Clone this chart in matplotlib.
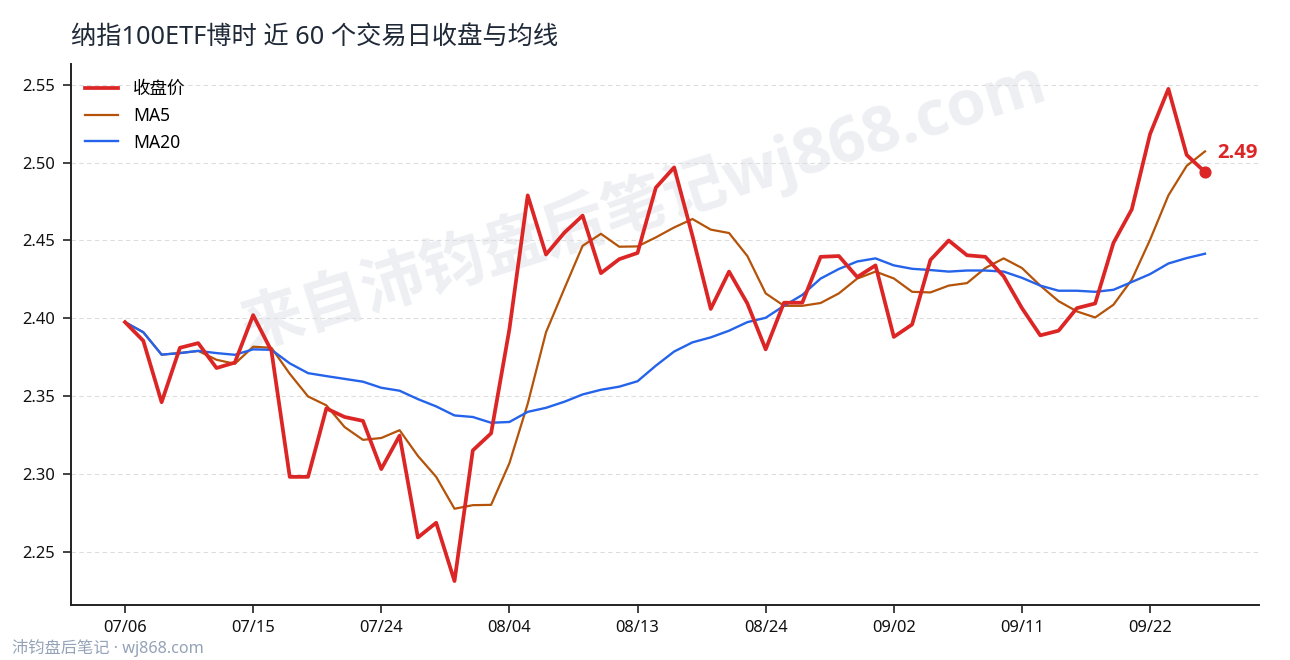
import matplotlib
matplotlib.use("Agg")
import matplotlib.pyplot as plt

FONT = ['Noto Sans', 'Noto Sans CJK SC', 'DejaVu Sans']
BOLD_FONT = ['Open Sans', 'Noto Sans CJK SC', 'DejaVu Sans']
plt.rcParams['font.family'] = FONT

title = "纳指100ETF博时 近 60 个交易日收盘与均线"
watermark = "来自沛钧盘后笔记wj868.com"
footer = "沛钧盘后笔记 · wj868.com"

dates = ["07/06","07/07","07/08","07/09","07/10","07/13","07/14","07/15","07/16","07/17",
         "07/20","07/21","07/22","07/23","07/24","07/27","07/28","07/29","07/30","07/31",
         "08/03","08/04","08/05","08/06","08/07","08/10","08/11","08/12","08/13","08/14",
         "08/17","08/18","08/19","08/20","08/21","08/24","08/25","08/26","08/27","08/28",
         "08/31","09/01","09/02","09/03","09/04","09/07","09/08","09/09","09/10","09/11",
         "09/14","09/15","09/16","09/17","09/18","09/21","09/22","09/23","09/24","09/25"]

close = [2.3975,2.3855,2.346,2.381,2.384,2.368,2.3715,2.402,2.379,2.298,
         2.298,2.342,2.3365,2.334,2.303,2.3245,2.259,2.2685,2.231,2.315,
         2.326,2.393,2.479,2.441,2.455,2.466,2.429,2.438,2.442,2.484,
         2.497,2.453,2.406,2.430,2.4095,2.380,2.410,2.410,2.4395,2.440,
         2.4265,2.434,2.388,2.396,2.4375,2.450,2.4405,2.4395,2.427,2.4065,
         2.389,2.392,2.4065,2.4095,2.4485,2.470,2.5185,2.5475,2.505,2.494]

ma5 = [2.3975,2.391,2.3766,2.3776,2.379,2.3733,2.3707,2.3817,2.381,2.3643,
       2.3497,2.344,2.330,2.3218,2.323,2.328,2.3115,2.298,2.2775,2.2798,
       2.280,2.3068,2.345,2.391,2.419,2.4466,2.4543,2.446,2.4462,2.452,
       2.4584,2.4638,2.457,2.4548,2.440,2.416,2.408,2.408,2.4098,2.416,
       2.4255,2.430,2.4256,2.417,2.4166,2.421,2.4226,2.4323,2.4385,2.4323,
       2.421,2.411,2.4044,2.4005,2.4087,2.4248,2.4505,2.479,2.498,2.5073]

ma20 = [2.3975,2.391,2.3766,2.3776,2.379,2.3776,2.3765,2.380,2.3797,2.371,
        2.3647,2.3628,2.361,2.3592,2.3553,2.3534,2.348,2.3433,2.3375,2.3365,
        2.3328,2.3333,2.3398,2.3424,2.3463,2.351,2.354,2.356,2.3595,2.3695,
        2.3786,2.3845,2.3877,2.392,2.3975,2.4003,2.408,2.415,2.4255,2.4317,
        2.4365,2.4385,2.434,2.4318,2.431,2.430,2.4307,2.4307,2.430,2.426,
        2.421,2.4177,2.4177,2.417,2.4183,2.4233,2.4284,2.4352,2.4387,2.4415]

y_ticks = [2.25, 2.30, 2.35, 2.40, 2.45, 2.50, 2.55]
tick_step = 7
last_label = "2.49"

W, H = 1290, 660
fig = plt.figure(figsize=(W/100, H/100), dpi=100, facecolor="white")
ax = fig.add_axes([71/W, 1-605/H, (1259-71)/W, (605-64)/H])
ax.patch.set_alpha(0)

xs = list(range(len(dates)))
ax.plot(xs, close, color="#dc2626", lw=2.7, label="收盘价", zorder=3)
ax.plot(xs, ma5, color="#b45309", lw=1.6, label="MA5", zorder=2)
ax.plot(xs, ma20, color="#2563eb", lw=1.7, label="MA20", zorder=2)
ax.scatter([xs[-1]], [close[-1]], s=60, color="#dc2626", zorder=4)
ax.annotate(last_label, (xs[-1], close[-1]), xytext=(9, 14), textcoords="offset points",
            color="#dc2626", fontsize=14.6, fontweight="bold", family=BOLD_FONT, va="center", ha="left",
            annotation_clip=False, zorder=5)

ax.set_xlim(-2.95, 61.95)
ax.set_ylim(2.2156, 2.5635)
ax.set_yticks(y_ticks)
ax.set_yticklabels([f"{v:.2f}" for v in y_ticks])
ax.set_xticks(xs[::tick_step])
ax.set_xticklabels(dates[::tick_step])
ax.tick_params(axis="both", labelsize=11.9, length=5.5, width=1.2, color="#222222", labelcolor="#111111")
ax.tick_params(axis="y", pad=6)
ax.tick_params(axis="x", pad=5)
ax.grid(axis="y", color="#dddddd", lw=0.8, ls=(0, (4, 3)), zorder=0)
ax.set_axisbelow(True)
for s in ("top", "right"):
    ax.spines[s].set_visible(False)
for s in ("left", "bottom"):
    ax.spines[s].set_linewidth(1.4)
    ax.spines[s].set_color("#222222")

leg = ax.legend(loc="upper left", bbox_to_anchor=(0.0, 1 - 2/541), frameon=False, fontsize=12.6,
                handlelength=1.9, handletextpad=0.85, labelspacing=0.5, borderpad=0.4, borderaxespad=0.4)

fig.text(71/W, 1-37/H, title, fontsize=18.2, color="#1f2937", va="center", ha="left")
fig.text(643/W, 1-205/H, watermark, fontsize=45.5, color="#dfe2ea", alpha=0.55, rotation=17.3,
         ha="center", va="center", fontweight="bold", family=BOLD_FONT, zorder=-1)
fig.text(12/W, 1-648/H, footer, fontsize=11.7, color="#94a3b8", va="center", ha="left")

fig.savefig("out.png", dpi=100, facecolor="white")
